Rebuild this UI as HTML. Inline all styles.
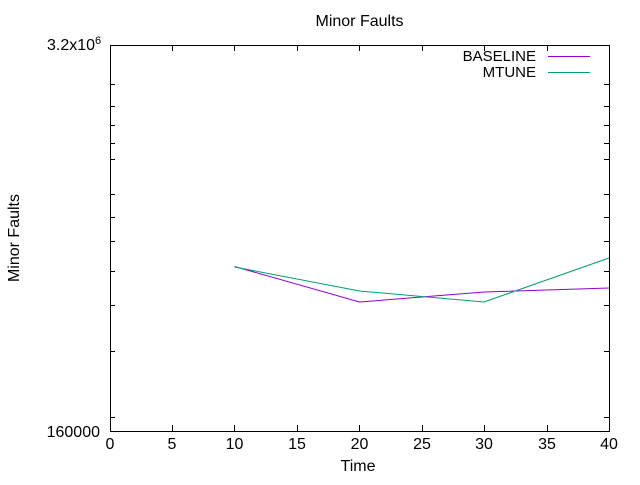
<!DOCTYPE html>
<html><head><style>
html,body{margin:0;padding:0;background:#fff;}
text{font-family:"Liberation Sans","DejaVu Sans",sans-serif;fill:#000;}
</style></head><body>
<svg width="640" height="480" xmlns="http://www.w3.org/2000/svg">
<rect width="640" height="480" fill="#fff"/>
<text x="359.5" y="26" font-size="16" text-anchor="middle">Minor Faults</text>
<rect x="110.5" y="45.5" width="499" height="386" fill="none" stroke="#000" stroke-width="1"/>
<g stroke="#000" stroke-width="1">
<path d="M110 84.5h5M110 106.5h5M110 125.5h5M110 143.5h5M110 159.5h5M110 194.5h5M110 217.5h5M110 241.5h5M110 271.5h5M110 305.5h5M110 351.5h5M110 417.5h5"/>
<path d="M609 84.5h-5M609 106.5h-5M609 125.5h-5M609 143.5h-5M609 159.5h-5M609 194.5h-5M609 217.5h-5M609 241.5h-5M609 271.5h-5M609 305.5h-5M609 351.5h-5M609 417.5h-5"/>
<path d="M172.5 431v-6M234.5 431v-6M297.5 431v-6M359.5 431v-6M422.5 431v-6M484.5 431v-6M547.5 431v-6"/>
<path d="M172.5 45v6M234.5 45v6M297.5 45v6M359.5 45v6M422.5 45v6M484.5 45v6M547.5 45v6"/>
</g>
<g font-size="16" text-anchor="middle">
<text x="110" y="449">0</text><text x="172" y="449">5</text><text x="234.5" y="449">10</text>
<text x="297" y="449">15</text><text x="359.5" y="449">20</text><text x="422" y="449">25</text>
<text x="484" y="449">30</text><text x="547" y="449">35</text><text x="609" y="449">40</text>
</g>
<text x="358" y="471" font-size="16" text-anchor="middle">Time</text>
<text x="100" y="437" font-size="16" text-anchor="end">160000</text>
<text x="47" y="50" font-size="16">3.2x10<tspan font-size="11" dy="-6">6</tspan></text>
<text transform="translate(19,238) rotate(-90)" font-size="16" text-anchor="middle">Minor Faults</text>
<text x="536" y="61" font-size="15" text-anchor="end">BASELINE</text>
<text x="536" y="77" font-size="15" text-anchor="end">MTUNE</text>
<path d="M548 56.5h42" stroke="#9400d3" stroke-width="1"/>
<path d="M548 72.5h42" stroke="#009e73" stroke-width="1"/>
<polyline points="234.5,266.5 359.5,302 484,292 609,288" fill="none" stroke="#9400d3" stroke-width="1"/>
<polyline points="234.5,267 359.5,291 484,302 609,258" fill="none" stroke="#009e73" stroke-width="1"/>
</svg>
</body></html>
